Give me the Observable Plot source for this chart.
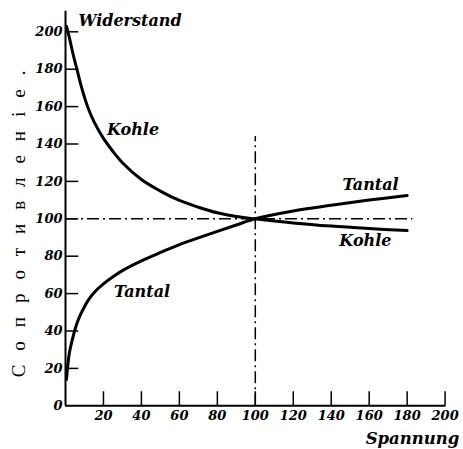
<!DOCTYPE html>
<html>
<head>
<meta charset="utf-8">
<script src="https://cdn.jsdelivr.net/npm/d3@7"></script>
<script src="https://cdn.jsdelivr.net/npm/@observablehq/plot@0.6"></script>
<style>
  html, body { margin: 0; padding: 0; background: #fff; }
  #chart svg { display: block; }
</style>
</head>
<body>
<div id="chart"></div>
<script>
// Spannung (x) and Widerstand (y)
const spannung = [0.5, 2, 4, 6, 8, 10, 12, 15, 20, 25, 30, 40, 50, 60, 70, 80, 90, 100, 120, 140, 160, 180];
const kohle    = [203, 197, 188, 180, 172, 165, 159, 152, 143, 136, 130, 121, 114.8, 109.8, 106.2, 103.2, 101.2, 100, 97.8, 96.1, 94.8, 93.7];
const tantal   = [14, 28, 37, 44, 49, 53, 56.5, 60.5, 65.2, 69, 72.3, 77.5, 82, 86.2, 89.8, 93.3, 96.7, 100, 104.2, 107.2, 110, 112.5];

const xTicks = [20, 40, 60, 80, 100, 120, 140, 160, 180, 200];
const yTicks = [0, 20, 40, 60, 80, 100, 120, 140, 160, 180, 200];
const yTickMarks = [20, 40, 60, 80, 100, 120, 140, 160, 180, 200];

const labels = [
  {text: "Widerstand", x: 34, y: 205.8},
  {text: "Kohle", x: 35.6, y: 147.5},
  {text: "Tantal", x: 40.3, y: 61.1},
  {text: "Tantal", x: 160.7, y: 118.1},
  {text: "Kohle", x: 158, y: 88.1}
];

const kohleData = spannung.map((x, i) => ({x, y: kohle[i]}));
const tantalData = spannung.map((x, i) => ({x, y: tantal[i]}));

const serif = "'DejaVu Serif', serif";
const titleFont = "'Liberation Serif', serif";
const dashDot = "12,4,2,4";

const chart = Plot.plot({
  width: 463,
  height: 449,
  marginLeft: 65,
  marginRight: 18.4,
  marginTop: 31.3,
  marginBottom: 43.7,
  x: {domain: [0, 200]},
  y: {domain: [0, 200]},
  style: {fontFamily: serif, background: "#fff", color: "#000", overflow: "visible"},
  marks: [
    Plot.axisY({ticks: yTicks, tickSize: 0, tickPadding: 3, label: null,
      fontSize: 13, fontWeight: "bold", fontStyle: "italic", fontFamily: serif}),
    Plot.axisX({ticks: xTicks, tickSize: 0, tickPadding: 5, label: null,
      fontSize: 13, fontWeight: "bold", fontStyle: "italic", fontFamily: serif}),
    Plot.ruleY(yTickMarks, {x1: 0, x2: 7, stroke: "#000", strokeWidth: 1.5}),
    Plot.ruleX(xTicks, {y1: 0, y2: 7.5, stroke: "#000", strokeWidth: 1.5}),
    Plot.ruleY([100], {x1: 0, x2: 183, stroke: "#000", strokeWidth: 1.5, strokeDasharray: dashDot}),
    Plot.ruleX([100], {y1: 0, y2: 144, stroke: "#000", strokeWidth: 1.5, strokeDasharray: dashDot}),
    Plot.ruleX([0], {y1: 0, y2: 211, stroke: "#000", strokeWidth: 2}),
    Plot.ruleY([0], {x1: 0, x2: 200.5, stroke: "#000", strokeWidth: 2}),
    Plot.line(kohleData, {x: "x", y: "y", curve: "catmull-rom", stroke: "#000", strokeWidth: 3}),
    Plot.line(tantalData, {x: "x", y: "y", curve: "catmull-rom", stroke: "#000", strokeWidth: 3}),
    Plot.text(labels, {x: "x", y: "y", text: "text", fontSize: 16, fontWeight: "bold",
      fontStyle: "italic", fontFamily: serif, fill: "#000"}),
    Plot.text(["Spannung"], {x: 182.8, y: -17.5, text: d => d, fontSize: 16.5, fontWeight: "bold",
      fontStyle: "italic", fontFamily: serif, fill: "#000"}),
    Plot.text(["Сопротивленіе."], {x: -24.8, y: 101, text: d => d, rotate: -90, fontSize: 19,
      fontFamily: titleFont, fill: "#000"})
  ]
});

d3.select(chart).selectAll("text")
  .filter(function() { return this.textContent === "Сопротивленіе."; })
  .attr("letter-spacing", 14);

document.getElementById("chart").appendChild(chart);
</script>
</body>
</html>
